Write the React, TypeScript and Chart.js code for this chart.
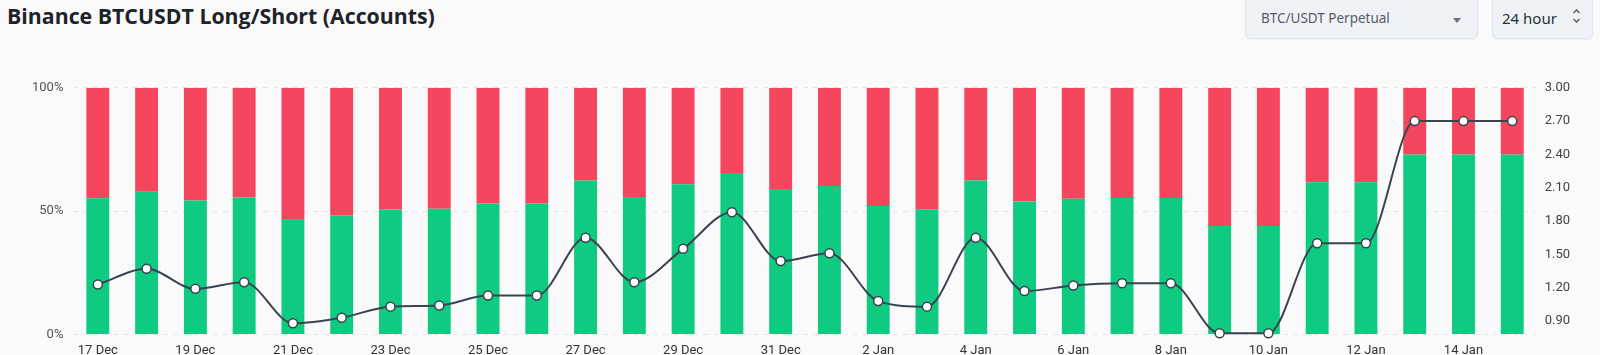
import React, { useEffect, useRef } from "react";
import { Chart, registerables } from "chart.js";

Chart.register(...registerables);

const categories = [
  "17 Dec", "18 Dec", "19 Dec", "20 Dec", "21 Dec", "22 Dec", "23 Dec", "24 Dec", "25 Dec", "26 Dec",
  "27 Dec", "28 Dec", "29 Dec", "30 Dec", "31 Dec", "1 Jan", "2 Jan", "3 Jan", "4 Jan", "5 Jan",
  "6 Jan", "7 Jan", "8 Jan", "9 Jan", "10 Jan", "11 Jan", "12 Jan", "13 Jan", "14 Jan", "15 Jan",
];

const longPct = [
  55.2, 57.8, 54.3, 55.5, 46.8, 48.3, 50.6, 51.0, 53.1, 53.1,
  62.4, 55.7, 60.9, 65.4, 59.0, 60.2, 52.1, 50.7, 62.4, 53.9,
  55.0, 55.3, 55.3, 44.0, 44.0, 61.7, 61.7, 73.0, 73.0, 73.0,
];

const shortPct = [
  44.8, 42.2, 45.7, 44.5, 53.2, 51.7, 49.4, 49.0, 46.9, 46.9,
  37.6, 44.3, 39.1, 34.6, 41.0, 39.8, 47.9, 49.3, 37.6, 46.1,
  45.0, 44.7, 44.7, 56.0, 56.0, 38.3, 38.3, 27.0, 27.0, 27.0,
];

const ratio = [
  1.23, 1.37, 1.19, 1.25, 0.88, 0.93, 1.03, 1.04, 1.13, 1.13,
  1.65, 1.25, 1.55, 1.88, 1.44, 1.51, 1.08, 1.03, 1.65, 1.17,
  1.22, 1.24, 1.24, 0.79, 0.79, 1.60, 1.60, 2.70, 2.70, 2.70,
];

const leftTicks = [0, 50, 100];
const rightTicks = [0.9, 1.2, 1.5, 1.8, 2.1, 2.4, 2.7, 3.0];
const rightMin = 0.78;
const rightMax = 3.0;

export default function App() {
  const ref = useRef<HTMLCanvasElement | null>(null);

  useEffect(() => {
    document.body.style.margin = "0";
    document.body.style.background = "#fafafa";
    document.body.style.overflow = "hidden";
    const ctx = ref.current!;
    const chart = new Chart(ctx, {
      type: "bar",
      data: {
        labels: categories,
        datasets: [
          {
            type: "line",
            label: "Long/Short Ratio",
            data: ratio,
            yAxisID: "y1",
            order: 0,
            borderColor: "#3b4350",
            borderWidth: 2,
            cubicInterpolationMode: "monotone",
            pointRadius: 4.5,
            pointBorderWidth: 1.5,
            pointBackgroundColor: "#ffffff",
            pointBorderColor: "#3b4350",
            clip: false,
          } as any,
          {
            label: "Long",
            data: longPct,
            yAxisID: "y",
            stack: "s",
            order: 1,
            backgroundColor: "#0ecb81",
            barPercentage: 0.47,
            categoryPercentage: 1,
          },
          {
            label: "Short",
            data: shortPct,
            yAxisID: "y",
            stack: "s",
            order: 1,
            backgroundColor: "#f6465d",
            barPercentage: 0.47,
            categoryPercentage: 1,
          },
        ],
      },
      options: {
        animation: false,
        responsive: true,
        maintainAspectRatio: false,
        layout: { padding: { left: 22, right: 22, top: 8, bottom: 0 } },
        plugins: { legend: { display: false }, tooltip: { enabled: false } },
        scales: {
          x: {
            stacked: true,
            grid: { display: false, drawTicks: false },
            border: { display: false },
            ticks: {
              autoSkip: false,
              maxRotation: 0,
              padding: 9,
              color: "#333333",
              font: { family: "Roboto", size: 13 },
              callback: (_v: any, i: number) => (i % 2 === 0 ? categories[i] : ""),
            },
          },
          y: {
            stacked: true,
            position: "left",
            min: 0,
            max: 100,
            afterBuildTicks: (axis: any) => {
              axis.ticks = leftTicks.map((v) => ({ value: v }));
            },
            grid: { color: "#e8e8e8", drawTicks: false },
            border: { display: false, dash: [5, 5] },
            ticks: {
              padding: 10,
              color: "#555555",
              font: { family: "Roboto", size: 13 },
              callback: (v: any) => v + "%",
            },
          },
          y1: {
            position: "right",
            min: rightMin,
            max: rightMax,
            afterBuildTicks: (axis: any) => {
              axis.ticks = rightTicks.map((v) => ({ value: v }));
            },
            grid: { display: false, drawTicks: false },
            border: { display: false },
            ticks: {
              padding: 8,
              color: "#444444",
              font: { family: "Roboto", size: 13 },
              callback: (v: any) => Number(v).toFixed(2),
            },
          },
        },
      },
    });
    return () => chart.destroy();
  }, []);

  return (
    <div style={{ position: "relative", width: 1600, height: 355, background: "#fafafa", overflow: "hidden" }}>
      <div
        style={{
          position: "absolute",
          left: 7,
          top: 1,
          fontFamily: "'Open Sans', sans-serif",
          fontWeight: 700,
          fontSize: 21.3,
          color: "#1e2329",
          whiteSpace: "nowrap",
        }}
      >
        Binance BTCUSDT Long/Short (Accounts)
      </div>
      <div
        style={{
          position: "absolute",
          left: 1245,
          top: -6,
          width: 233,
          height: 45,
          boxSizing: "border-box",
          background: "#eef2f6",
          border: "1px solid #e2e7ed",
          borderRadius: 6,
          boxShadow: "0 1px 2px rgba(0,0,0,0.06)",
          fontFamily: "'Noto Sans', sans-serif",
        }}
      >
        <span style={{ position: "absolute", left: 15, top: 14, fontSize: 13.5, color: "#555b63" }}>
          BTC/USDT Perpetual
        </span>
        <span
          style={{
            position: "absolute",
            left: 207,
            top: 23,
            width: 0,
            height: 0,
            borderLeft: "4.5px solid transparent",
            borderRight: "4.5px solid transparent",
            borderTop: "5px solid #6b7178",
          }}
        />
      </div>
      <div
        style={{
          position: "absolute",
          left: 1492,
          top: -6,
          width: 101,
          height: 45,
          boxSizing: "border-box",
          background: "#eef2f6",
          border: "1px solid #e2e7ed",
          borderRadius: 6,
          boxShadow: "0 1px 2px rgba(0,0,0,0.06)",
          fontFamily: "'Noto Sans', sans-serif",
        }}
      >
        <span style={{ position: "absolute", left: 9, top: 13, fontSize: 15, color: "#2b2f36" }}>24 hour</span>
        <svg style={{ position: "absolute", left: 79, top: 13 }} width="9" height="16" viewBox="0 0 9 16">
          <polyline points="1.5,5 4.5,2 7.5,5" fill="none" stroke="#555" strokeWidth="1.3" />
          <polyline points="1.5,11 4.5,14 7.5,11" fill="none" stroke="#555" strokeWidth="1.3" />
        </svg>
      </div>
      <div style={{ position: "absolute", left: 0, top: 70, width: 1600, height: 298 }}>
        <canvas ref={ref} />
      </div>
    </div>
  );
}
